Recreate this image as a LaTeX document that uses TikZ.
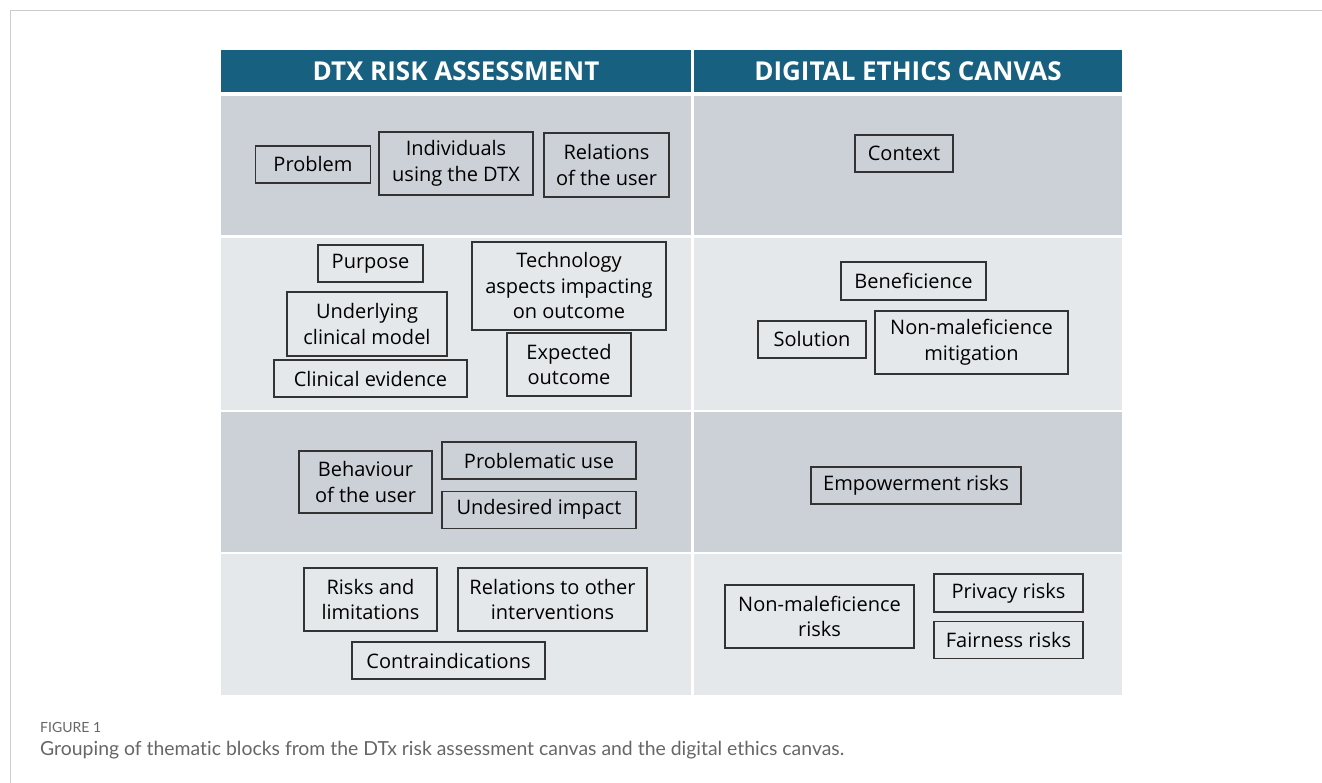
\documentclass[tikz,border=0pt]{standalone}
\usepackage{fontspec}
\setmainfont{Open Sans}
\newfontfamily\capfont[Ligatures=NoCommon]{Lato}
\usetikzlibrary{positioning}

\definecolor{headblue}{HTML}{17607F}
\definecolor{rowdark}{HTML}{CCD1D8}
\definecolor{rowlight}{HTML}{E5E8EB}
\definecolor{boxline}{HTML}{333333}
\definecolor{captxt}{HTML}{666666}
\definecolor{framegray}{HTML}{CCCCCC}

\begin{document}
\begin{tikzpicture}[
    x=1pt, y=-1pt,
    box/.style={draw=boxline, line width=1.1pt, inner sep=0pt, align=center,
        text=black, font=\fontsize{20}{25.5}\selectfont},
    head/.style={text=white, font=\fontsize{26}{30}\selectfont\bfseries},
    caption/.style={anchor=west, text=captxt, inner sep=0pt}
]
    \useasboundingbox (0,0) rectangle (1322,783);

    % Moldura
    \draw[framegray, line width=1pt] (10,783) -- (10,11) -- (1322,11);

    % Cabeçalho e faixas
    \fill[headblue] (221,50) rectangle (691,92);
    \fill[headblue] (694,50) rectangle (1122,92);
    \fill[rowdark]  (221,96) rectangle (691,235);
    \fill[rowdark]  (694,96) rectangle (1122,235);
    \fill[rowlight] (221,238) rectangle (691,410);
    \fill[rowlight] (694,238) rectangle (1122,410);
    \fill[rowdark]  (221,412) rectangle (691,552);
    \fill[rowdark]  (694,412) rectangle (1122,552);
    \fill[rowlight] (221,554) rectangle (691,695);
    \fill[rowlight] (694,554) rectangle (1122,695);

    \node[head] (hdtx) at (456,71) {DTX RISK ASSESSMENT};
    \node[head] (hdec) at (908,71) {DIGITAL ETHICS CANVAS};

    % Linha 1
    \node[box, minimum width=115pt, minimum height=37pt] (problem) at (313,164.5) {Problem};
    \node[box, minimum width=154pt, minimum height=63pt] (indiv) at (456,163.5) {Individuals\\using the DTX};
    \node[box, minimum width=125pt, minimum height=64pt] (relusr) at (606.5,165) {Relations\\of the user};
    \node[box, minimum width=98pt, minimum height=37pt] (context) at (904,153.5) {Context};

    % Linha 2
    \node[box, minimum width=105pt, minimum height=37pt] (purpose) at (370.5,263.5) {Purpose};
    \node[box, minimum width=160pt, minimum height=64pt] (clinmod) at (367,324) {Underlying\\clinical model};
    \node[box, minimum width=193pt, minimum height=37pt] (clinev) at (370.5,378.5) {Clinical evidence};
    \node[box, minimum width=194pt, minimum height=88pt] (techasp) at (569,286) {Technology\\aspects impacting\\on outcome};
    \node[box, minimum width=124pt, minimum height=63pt] (expout) at (569,364.5) {Expected\\outcome};
    \node[box, minimum width=145pt, minimum height=38pt] (benef) at (913.5,281) {Beneficience};
    \node[box, minimum width=108pt, minimum height=37pt] (solution) at (812,339.5) {Solution};
    \node[box, minimum width=193pt, minimum height=63pt] (nmmitig) at (971.5,342.5) {Non-maleficience\\mitigation};

    % Linha 3
    \node[box, minimum width=133pt, minimum height=62pt] (behav) at (365.5,482) {Behaviour\\of the user};
    \node[box, minimum width=194pt, minimum height=37pt] (probuse) at (539,460.5) {Problematic use};
    \node[box, minimum width=194pt, minimum height=37pt] (undimp) [below=11pt of probuse] {Undesired impact};
    \node[box, minimum width=210pt, minimum height=37pt] (empow) at (916,485.5) {Empowerment risks};

    % Linha 4
    \node[box, minimum width=133pt, minimum height=63pt] (risklim) at (370.5,599.5) {Risks and\\limitations};
    \node[box, minimum width=189pt, minimum height=63pt] (relint) at (552.5,599.5) {Relations to other\\interventions};
    \node[box, minimum width=193pt, minimum height=37pt] (contra) at (448.5,660.5) {Contraindications};
    \node[box, minimum width=189pt, minimum height=63pt] (nmrisk) at (819.5,616.5) {Non-maleficience\\risks};
    \node[box, minimum width=149pt, minimum height=38pt] (privacy) at (1008.5,593) {Privacy risks};
    \node[box, minimum width=149pt, minimum height=37pt] (fairness) [below=8pt of privacy] {Fairness risks};

    % Legenda
    \node[caption, font=\capfont\fontsize{14}{16}\selectfont] (fignum) at (40,727) {FIGURE 1};
    \node[caption, font=\capfont\fontsize{19.4}{22}\selectfont] (figcap) at (40,750)
        {Grouping of thematic blocks from the DTx risk assessment canvas and the digital ethics canvas.};

\end{tikzpicture}
\end{document}
